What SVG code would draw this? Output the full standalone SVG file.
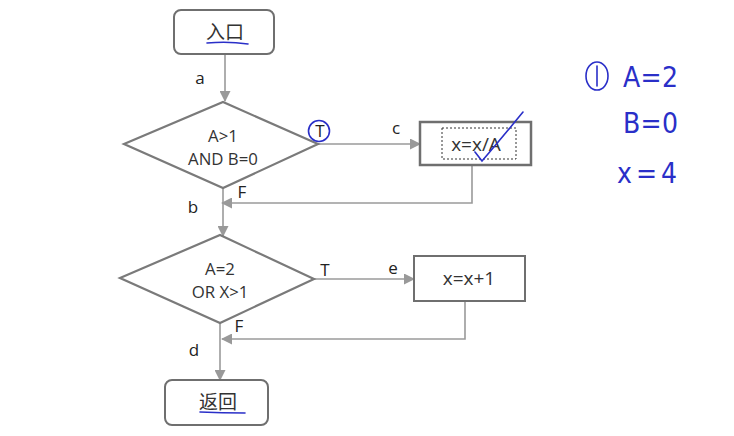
<svg xmlns="http://www.w3.org/2000/svg" width="734" height="436" viewBox="0 0 734 436">
<defs>
<marker id="ah" markerWidth="11" markerHeight="11" refX="10" refY="5.5" orient="auto" markerUnits="userSpaceOnUse">
<path d="M0,0 L11,5.5 L0,11 z" fill="#999"/>
</marker>
<style>
.t{font-family:"Open Sans","Liberation Sans","Noto Sans CJK SC",sans-serif;font-size:16.8px;fill:#333;text-anchor:middle}
.tb{font-family:"Open Sans","Liberation Sans",sans-serif;font-size:19px;fill:#333;text-anchor:middle}
.cjk{font-family:"Noto Sans CJK SC",sans-serif;font-size:19px;fill:#333;text-anchor:middle}
.lbl{font-family:"Open Sans","Liberation Sans",sans-serif;font-size:17px;fill:#222;text-anchor:middle}
.c{fill:none;stroke:#9a9a9a;stroke-width:1.6}
.d{fill:#fff;stroke:#7a7a7a;stroke-width:2.2}
.r{fill:#fff;stroke:#6f6f6f;stroke-width:2}
.ink{fill:none;stroke:#2a2fc8;stroke-width:1.6;stroke-linecap:round}
.hw{font-family:"DejaVu Sans Condensed","DejaVu Sans",sans-serif;font-size:28px;fill:#2a2fc8}
</style>
</defs>
<rect width="734" height="436" fill="#fff"/>
<g id="connectors">
<line class="c" x1="225" y1="54" x2="225" y2="101" marker-end="url(#ah)"/>
<line class="c" x1="318" y1="144" x2="420" y2="144" marker-end="url(#ah)"/>
<polyline class="c" points="472,165 472,203 222,203" marker-end="url(#ah)"/>
<line class="c" x1="223" y1="188" x2="223" y2="236" marker-end="url(#ah)"/>
<line class="c" x1="314" y1="279" x2="414" y2="279" marker-end="url(#ah)"/>
<polyline class="c" points="465,301 465,339 222,339" marker-end="url(#ah)"/>
<line class="c" x1="220" y1="323" x2="220" y2="380" marker-end="url(#ah)"/>
<text class="lbl" x="200" y="84">a</text>
<text class="lbl" x="396" y="134">c</text>
<text class="lbl" x="242" y="198">F</text>
<text class="lbl" x="193" y="213">b</text>
<text class="lbl" x="325" y="276">T</text>
<text class="lbl" x="393" y="274">e</text>
<text class="lbl" x="239" y="332">F</text>
<text class="lbl" x="194" y="356">d</text>
</g>
<g id="entry">
<rect class="r" x="174" y="10" width="100" height="44" rx="7"/>
<text class="cjk" x="225" y="39">入口</text>
<path class="ink" d="M207,43 Q228,41 248,44"/>
</g>
<g id="cond1">
<polygon class="d" points="124,144 223,102 318,144 223,188"/>
<text class="t" x="223" y="142">A&gt;1</text>
<text class="t" x="223" y="165">AND B=0</text>
<text class="lbl" x="320" y="137">T</text>
<circle class="ink" cx="319" cy="131" r="10.5"/>
</g>
<g id="box-c">
<rect x="420" y="122" width="111" height="43" fill="#fff" stroke="#6f6f6f" stroke-width="2.5"/>
<rect x="442" y="128" width="74" height="31" fill="none" stroke="#333" stroke-width="1" stroke-dasharray="2,2"/>
<text class="tb" x="476" y="151">x=x/A</text>
<path class="ink" d="M475,152 L482,161 Q500,140 523,112"/>
</g>
<g id="cond2">
<polygon class="d" points="120,278 220,235 314,279 220,323"/>
<text class="t" x="220" y="275">A=2</text>
<text class="t" x="220" y="298">OR X&gt;1</text>
</g>
<g id="box-e">
<rect class="r" x="414" y="256" width="111" height="45"/>
<text class="tb" x="469" y="285">x=x+1</text>
</g>
<g id="return">
<rect class="r" x="165" y="380" width="103" height="45" rx="7"/>
<text class="cjk" x="218" y="409">返回</text>
<path class="ink" d="M200,412 Q222,413 245,413"/>
</g>
<g id="notes">
<ellipse class="ink" cx="597" cy="76" rx="11" ry="14"/>
<line class="ink" x1="597" y1="66" x2="597" y2="86"/>
<text class="hw" x="623" y="87" textLength="55">A=2</text>
<text class="hw" x="623" y="133" textLength="55">B=0</text>
<text class="hw" x="617" y="183" textLength="60">x=4</text>
</g>
</svg>
